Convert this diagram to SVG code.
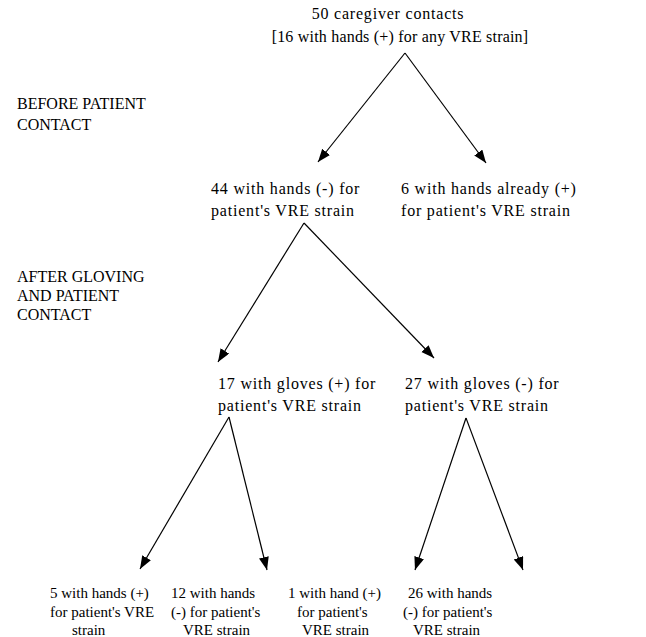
<svg xmlns="http://www.w3.org/2000/svg" width="646" height="637" viewBox="0 0 646 637">
<style>
.n{font-family:"Liberation Serif","Times New Roman",serif;font-size:16px;letter-spacing:0.8px;fill:#000}
.t{font-family:"Liberation Serif","Times New Roman",serif;font-size:16px;letter-spacing:0.2px;fill:#000}
.l{font-family:"Liberation Serif","Times New Roman",serif;font-size:16px;fill:#000}
.b{font-family:"Liberation Serif","Times New Roman",serif;font-size:15px;fill:#000}
.c{stroke:#000;stroke-width:1.2;fill:none;marker-end:url(#ah)}
</style>
<defs>
<marker id="ah" markerUnits="userSpaceOnUse" markerWidth="14" markerHeight="11" refX="13" refY="5" orient="auto">
<path d="M0,0 L13,5 L0,10 z" fill="#000"/>
</marker>
</defs>
<rect width="646" height="637" fill="#fff"/>
<g id="stage-labels">
<text class="l" x="17" y="109">BEFORE PATIENT</text>
<text class="l" x="17" y="130">CONTACT</text>
<text class="l" x="17" y="282">AFTER GLOVING</text>
<text class="l" x="17" y="301">AND PATIENT</text>
<text class="l" x="17" y="320">CONTACT</text>
</g>
<g id="connectors">
<line class="c" x1="405" y1="53" x2="318" y2="162"/>
<line class="c" x1="405" y1="53" x2="486" y2="163"/>
<line class="c" x1="304" y1="223" x2="218" y2="362"/>
<line class="c" x1="304" y1="223" x2="434" y2="358"/>
<line class="c" x1="229" y1="417" x2="140" y2="569"/>
<line class="c" x1="229" y1="417" x2="267" y2="570"/>
<line class="c" x1="466" y1="418" x2="415" y2="570"/>
<line class="c" x1="466" y1="418" x2="523" y2="570"/>
</g>
<g id="root">
<text class="n" x="388" y="19" text-anchor="middle">50 caregiver contacts</text>
<text class="t" x="400" y="42" text-anchor="middle">[16 with hands (+) for any VRE strain]</text>
</g>
<g id="hands-neg">
<text class="n" x="211" y="194">44 with hands (-) for</text>
<text class="n" x="211" y="216">patient's VRE strain</text>
</g>
<g id="hands-pos">
<text class="n" x="401" y="194">6 with hands already (+)</text>
<text class="n" x="401" y="216">for patient's VRE strain</text>
</g>
<g id="gloves-pos">
<text class="n" x="218" y="389">17 with gloves (+) for</text>
<text class="n" x="218" y="411">patient's VRE strain</text>
</g>
<g id="gloves-neg">
<text class="n" x="405" y="389">27 with gloves (-) for</text>
<text class="n" x="405" y="411">patient's VRE strain</text>
</g>
<g id="leaf1">
<text class="b" x="50" y="598">5 with hands (+)</text>
<text class="b" x="50" y="617">for patient's VRE</text>
<text class="b" x="72" y="635">strain</text>
</g>
<g id="leaf2">
<text class="b" x="171" y="598">12 with hands</text>
<text class="b" x="171" y="617">(-) for patient's</text>
<text class="b" x="183" y="635">VRE strain</text>
</g>
<g id="leaf3">
<text class="b" x="288" y="598">1 with hand (+)</text>
<text class="b" x="297" y="617">for patient's</text>
<text class="b" x="302" y="635">VRE strain</text>
</g>
<g id="leaf4">
<text class="b" x="408" y="598">26 with hands</text>
<text class="b" x="403" y="617">(-) for patient's</text>
<text class="b" x="413" y="635">VRE strain</text>
</g>
</svg>
